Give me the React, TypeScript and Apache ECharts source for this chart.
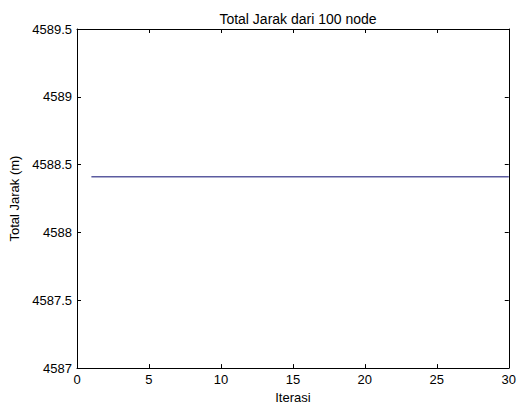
import React, { useEffect, useRef } from "react";
import * as echarts from "echarts";

const iterations: number[] = [
  1, 2, 3, 4, 5, 6, 7, 8, 9, 10, 11, 12, 13, 14, 15,
  16, 17, 18, 19, 20, 21, 22, 23, 24, 25, 26, 27, 28, 29, 30,
];
const totalJarak: number[] = [
  4588.41, 4588.41, 4588.41, 4588.41, 4588.41, 4588.41, 4588.41, 4588.41, 4588.41, 4588.41,
  4588.41, 4588.41, 4588.41, 4588.41, 4588.41, 4588.41, 4588.41, 4588.41, 4588.41, 4588.41,
  4588.41, 4588.41, 4588.41, 4588.41, 4588.41, 4588.41, 4588.41, 4588.41, 4588.41, 4588.41,
];

const titleText = "Total Jarak dari 100 node";
const xName = "Iterasi";
const yName = "Total Jarak (m)";

export default function App() {
  const ref = useRef<HTMLDivElement>(null);
  useEffect(() => {
    if (!ref.current) return;
    const chart = echarts.init(ref.current, undefined, { renderer: "svg" });
    const font = "Liberation Sans, Arial, sans-serif";
    const axisLine = { show: true, onZero: false, lineStyle: { color: "#000", width: 1 } };
    const tick = { show: true, inside: true, length: 4, lineStyle: { color: "#000", width: 1 } };
    const fmt = (v: number) => String(v);
    chart.setOption({
      animation: false,
      backgroundColor: "#fff",
      title: {
        text: titleText,
        left: 293,
        top: 7,
        textAlign: "center",
        textStyle: { fontFamily: font, fontSize: 14, fontWeight: "normal", color: "#000" },
      },
      grid: { left: 77, right: 9, top: 29, bottom: 39, containLabel: false },
      xAxis: [
        {
          type: "value",
          min: 0,
          max: 30,
          interval: 5,
          position: "bottom",
          name: xName,
          nameLocation: "middle",
          nameGap: 22,
          nameTextStyle: { fontFamily: font, fontSize: 13, color: "#000" },
          axisLine,
          axisTick: tick,
          axisLabel: { fontFamily: font, fontSize: 13, color: "#000", margin: 5, formatter: fmt },
          splitLine: { show: false },
        },
        {
          type: "value",
          min: 0,
          max: 30,
          interval: 5,
          position: "top",
          axisLine,
          axisTick: tick,
          axisLabel: { show: false },
          splitLine: { show: false },
        },
      ],
      yAxis: [
        {
          type: "value",
          min: 4587,
          max: 4589.5,
          interval: 0.5,
          position: "left",
          name: yName,
          nameLocation: "middle",
          nameGap: 51,
          nameRotate: 90,
          nameTextStyle: { fontFamily: font, fontSize: 13, color: "#000" },
          axisLine,
          axisTick: tick,
          axisLabel: { fontFamily: font, fontSize: 13, color: "#000", margin: 5, formatter: fmt },
          splitLine: { show: false },
        },
        {
          type: "value",
          min: 4587,
          max: 4589.5,
          interval: 0.5,
          position: "right",
          axisLine,
          axisTick: tick,
          axisLabel: { show: false },
          splitLine: { show: false },
        },
      ],
      series: [
        {
          type: "line",
          xAxisIndex: 0,
          yAxisIndex: 0,
          data: iterations.map((x, i) => [x, totalJarak[i]]),
          showSymbol: false,
          symbol: "none",
          lineStyle: { color: "#5c5ca0", width: 1.5 },
        },
      ],
    });
    return () => chart.dispose();
  }, []);
  return (
    <div
      ref={ref}
      style={{ position: "fixed", left: 0, top: 0, width: 519, height: 409 }}
    />
  );
}
